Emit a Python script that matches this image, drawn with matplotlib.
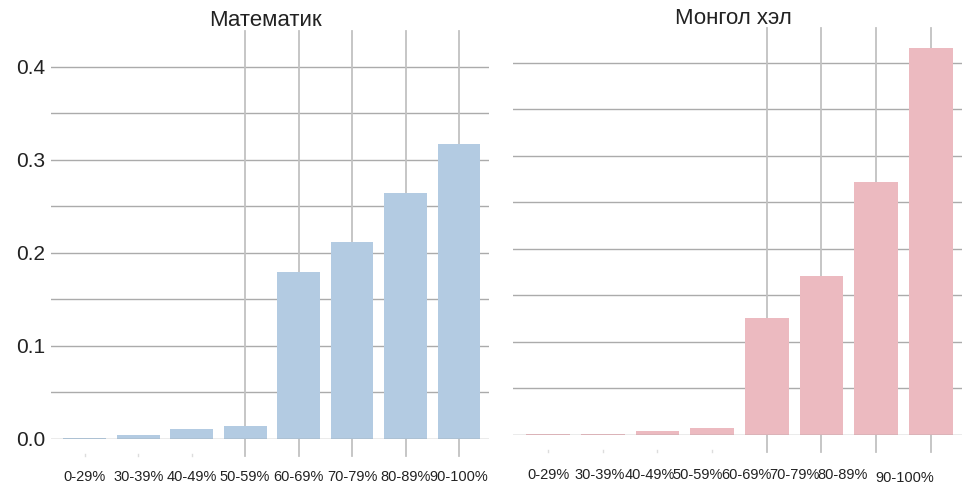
import numpy as np
import matplotlib.pyplot as plt

# ============================================
# data
# ============================================
categories = ['0-29%', '30-39%', '40-49%', '50-59%', '60-69%', '70-79%', '80-89%', '90-100%']
math_share = [0.001, 0.004, 0.011, 0.014, 0.180, 0.212, 0.265, 0.317]
mongol_share = [0.001, 0.001, 0.004, 0.008, 0.126, 0.171, 0.272, 0.416]
titles = ['Математик', 'Монгол хэл']

plt.rcParams['font.family'] = ['Liberation Sans', 'DejaVu Sans']

fig = plt.figure(figsize=(9.66, 4.87), dpi=100)
ax1 = fig.add_axes([51/966, 48/487, 438/966, 408/487])
ax2 = fig.add_axes([513/966, 52/487, 449/966, 407/487])

x = np.arange(len(categories))


def style(ax, vals, color, ymax, xlim, vstart, show_y):
    ax.bar(x, vals, width=0.8, color=color, zorder=3)
    ax.set_xlim(*xlim)
    ax.set_ylim(0, ymax)
    for s in ax.spines.values():
        s.set_visible(False)
    # horizontal grid every 0.05
    for v in np.arange(0, 0.401, 0.05):
        ax.axhline(v, color='#999999' if v == 0 else '#ababab', lw=1.0, zorder=1 if v else 4)
    # vertical grid + tick stubs
    h = ax.get_position().height * fig.get_figheight() * fig.dpi
    stub = 17 / h
    for i in x:
        if i >= vstart:
            ax.axvline(i, ymin=-stub, ymax=1, color='#c2c2c2', lw=1.3, zorder=2, clip_on=False)
        else:
            ax.axvline(i, ymin=-stub, ymax=-stub + 2 / h, color='#dddddd', lw=1.0, clip_on=False)
    ax.set_xticks([])
    if show_y:
        ax.set_yticks([0, 0.1, 0.2, 0.3, 0.4])
        ax.set_yticklabels(['0.0', '0.1', '0.2', '0.3', '0.4'], fontsize=15, color='#222222')
        ax.tick_params(axis='y', length=0, pad=4)
    else:
        ax.set_yticks([])


style(ax1, math_share, '#b3cbe2', 0.4387, (-0.63, 7.56), 3, True)
style(ax2, mongol_share, '#ecbac0', 0.4376, (-0.64, 7.57), 4, False)

# x labels (left centred, right crowded like the original)
for i, c in enumerate(categories):
    ax1.text(i, -0.093, c, transform=ax1.get_xaxis_transform(), ha='center', va='center',
             fontsize=10.5, color='#222222')

right_shift = [0, -0.05, -0.135, -0.27, -0.38, -0.50, -0.62, -0.475]
right_y = [-0.098] * 7 + [-0.106]
for i, c in enumerate(categories):
    ax2.text(i + right_shift[i], right_y[i], c, transform=ax2.get_xaxis_transform(), ha='center',
             va='center', fontsize=10.5, color='#222222')

fig.text(265/966, 1 - 20/487, titles[0], ha='center', va='center', fontsize=16, color='#222222')
fig.text(733/966, 1 - 18/487, titles[1], ha='center', va='center', fontsize=16, color='#222222')

plt.savefig('out.png', dpi=100)
